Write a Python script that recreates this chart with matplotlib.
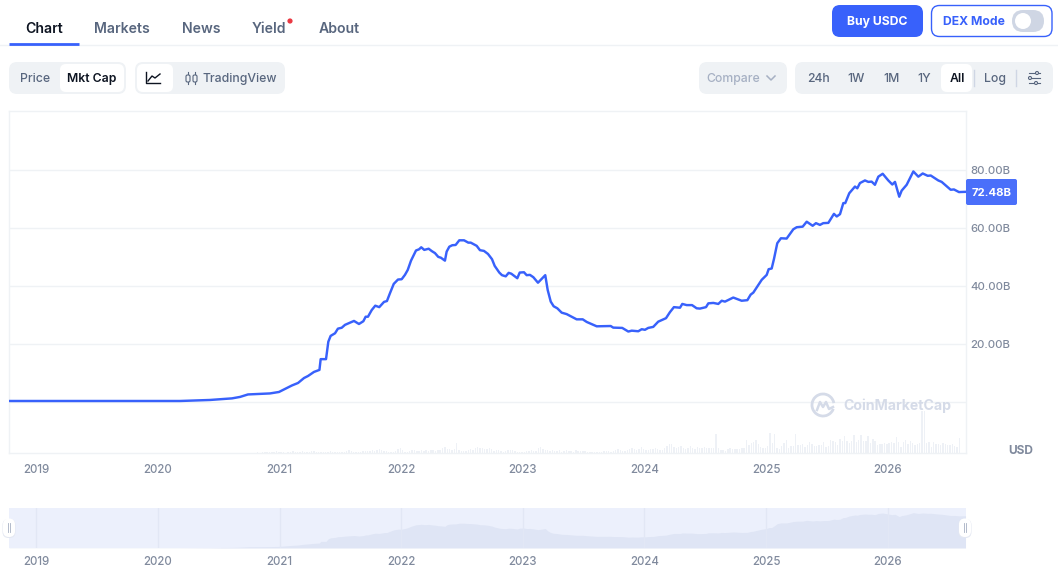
import numpy as np
import matplotlib
matplotlib.use("Agg")
import matplotlib.pyplot as plt
from matplotlib.patches import FancyBboxPatch, Circle, Arc

plt.rcParams["font.family"] = ["Inter", "DejaVu Sans"]

# market cap, decimal year / billions USD
cap_years = [
    2018.774, 2019.193, 2019.522, 2019.933, 2020.180, 2020.427, 2020.608, 2020.674, 2020.739, 2020.822,
    2020.920, 2020.994, 2021.044, 2021.101, 2021.151, 2021.200, 2021.233, 2021.282, 2021.327, 2021.337,
    2021.381, 2021.400, 2021.419, 2021.455, 2021.479, 2021.510, 2021.537, 2021.611, 2021.652, 2021.688,
    2021.707, 2021.726, 2021.757, 2021.786, 2021.819, 2021.858, 2021.882, 2021.907, 2021.938, 2021.973,
    2022.003, 2022.030, 2022.053, 2022.080, 2022.121, 2022.146, 2022.164, 2022.189, 2022.225, 2022.252,
    2022.277, 2022.304, 2022.326, 2022.359, 2022.373, 2022.395, 2022.419, 2022.447, 2022.477, 2022.516,
    2022.551, 2022.571, 2022.620, 2022.647, 2022.680, 2022.713, 2022.746, 2022.768, 2022.806, 2022.828,
    2022.859, 2022.883, 2022.905, 2022.954, 2022.974, 2023.009, 2023.031, 2023.058, 2023.086, 2023.124,
    2023.184, 2023.204, 2023.229, 2023.253, 2023.283, 2023.319, 2023.360, 2023.442, 2023.492, 2023.525,
    2023.607, 2023.722, 2023.743, 2023.817, 2023.867, 2023.895, 2023.949, 2023.977, 2024.004, 2024.031,
    2024.072, 2024.113, 2024.177, 2024.209, 2024.242, 2024.292, 2024.311, 2024.347, 2024.391, 2024.429,
    2024.456, 2024.506, 2024.525, 2024.566, 2024.607, 2024.635, 2024.662, 2024.730, 2024.799, 2024.846,
    2024.873, 2024.895, 2024.964, 2025.005, 2025.021, 2025.046, 2025.065, 2025.092, 2025.122, 2025.169,
    2025.224, 2025.252, 2025.301, 2025.334, 2025.383, 2025.410, 2025.443, 2025.470, 2025.512, 2025.558,
    2025.581, 2025.608, 2025.635, 2025.651, 2025.684, 2025.731, 2025.750, 2025.772, 2025.813, 2025.841,
    2025.868, 2025.895, 2025.923, 2025.959, 2026.005, 2026.038, 2026.060, 2026.095, 2026.115, 2026.156,
    2026.183, 2026.211, 2026.252, 2026.288, 2026.329, 2026.354, 2026.416, 2026.444, 2026.518, 2026.545,
    2026.586, 2026.640,
]
cap_values = [
    0.5, 0.5, 0.5, 0.5, 0.5, 0.85, 1.4, 1.9, 2.75, 2.9,
    3.1, 3.6, 4.65, 5.85, 6.7, 8.4, 9.1, 10.5, 11.2, 14.9,
    14.9, 20.9, 22.9, 23.8, 25.4, 25.7, 26.7, 28.05, 27.0, 27.95,
    29.5, 29.5, 31.8, 33.3, 32.8, 34.6, 34.9, 37.6, 40.8, 42.3,
    42.4, 43.9, 45.6, 48.8, 52.3, 52.7, 53.4, 52.5, 52.9, 52.05,
    51.4, 50.1, 49.8, 48.8, 51.9, 53.6, 54.1, 54.2, 55.8, 55.8,
    55.0, 55.0, 53.9, 52.4, 52.15, 51.1, 49.3, 47.0, 44.7, 43.8,
    43.4, 44.6, 44.3, 42.75, 44.7, 44.8, 43.8, 43.9, 43.1, 41.2,
    43.8, 38.7, 34.7, 33.1, 32.4, 30.9, 30.4, 28.6, 28.6, 27.7,
    26.2, 26.3, 25.75, 25.65, 24.4, 24.7, 24.5, 25.2, 25.0, 25.65,
    26.0, 27.8, 29.0, 31.05, 32.8, 32.6, 33.9, 33.5, 33.5, 32.4,
    32.3, 32.8, 34.1, 34.25, 33.9, 35.0, 34.7, 36.1, 35.0, 35.2,
    37.1, 37.8, 42.2, 43.9, 45.85, 46.1, 49.4, 54.8, 56.5, 56.4,
    59.6, 60.3, 60.5, 62.2, 60.8, 61.7, 61.1, 61.7, 61.8, 64.9,
    64.0, 64.8, 68.6, 68.6, 72.0, 74.3, 73.7, 75.5, 76.4, 75.9,
    76.0, 74.9, 77.7, 78.7, 76.4, 75.0, 75.9, 70.8, 72.9, 74.9,
    77.2, 79.5, 77.7, 78.8, 78.0, 78.1, 76.4, 75.9, 73.2, 73.3,
    72.4, 72.48,
]

# weekly volume, rough heights from the picture
vol_start = 2020.82
vol_values = [
    1, 0, 1, 1, 1, 1, 1, 1, 2, 1, 1, 1, 0, 1, 1, 2, 1, 1, 1, 2, 1, 1, 1, 2, 2, 1, 1, 1, 1, 1,
    1.5, 2, 1, 1, 1, 1, 1.5, 1.5, 2, 3, 2, 1.5, 1, 1, 1.5, 2, 2, 2.5, 2, 3, 2, 3, 4, 3, 2, 2, 1, 1.5, 1, 2, 4,
    5, 3, 1, 1, 2, 3, 3, 2, 2, 3, 2, 3, 2, 3, 3, 2, 3, 3, 5, 6, 4, 4, 3, 4, 10, 3, 2, 2, 2, 3, 4, 3, 5, 6,
    5, 5, 4, 4, 5, 4, 2, 3, 3, 2, 1.5, 2, 3, 3, 3, 2, 1, 1, 1, 1.5, 2, 2, 3, 2, 2, 5, 6,
    4, 3, 3, 2, 3, 2, 2, 3, 1.5, 2, 3, 2, 2, 1.5, 3, 2, 2, 2, 2, 1, 1, 1, 1, 1, 1, 1.5, 2, 2, 2, 1, 2, 3,
    4, 3, 2, 2, 3, 4, 5, 4, 3, 4, 6, 4, 3, 3, 4, 4, 5, 4, 3, 3, 5, 7, 9, 9, 6, 5, 6, 7, 5, 4, 5, 7, 5, 4,
    6, 5, 5, 6, 5, 5, 5, 5, 19, 5, 3, 3, 2, 4, 5,
    4, 4, 4, 4, 5, 5, 13, 8, 10, 11, 13, 9, 6, 5, 5, 7, 20, 10, 19, 5, 4, 7, 10, 13, 5, 7, 7, 19,
    8, 8, 9, 6, 8, 11, 9, 7, 7, 8, 8, 11, 6, 7, 13, 12, 11, 8, 14, 12, 17, 12, 10, 12, 18, 11, 13, 18, 12, 12,
    17, 10, 14, 12, 8, 9, 9, 10, 9, 10, 11, 10, 16, 11, 6, 11, 13, 9, 12, 10, 8, 9, 10, 42, 42, 10, 11, 6, 11, 9,
    9, 8, 10, 9, 8, 8, 9, 7, 6, 15,
]

year_ticks = [2019, 2020, 2021, 2022, 2023, 2024, 2025, 2026]
cap_ticks = [20, 40, 60, 80]
cap_tick_labels = ["20.00B", "40.00B", "60.00B", "80.00B"]
last_label = "72.48B"

tab_names = ["Chart", "Markets", "News", "Yield", "About"]
range_names = ["24h", "1W", "1M", "1Y", "All"]

BLUE = "#3861fb"
GRID = "#eff2f5"
GREY = "#808a9d"
SLATE = "#58667e"
DARK = "#0d1421"
W, H = 1058, 577
XLIM = (2018.774, 2026.644)


def px_rect(left, top, right, bottom):
    return [left / W, 1 - bottom / H, (right - left) / W, (bottom - top) / H]


def pill(ax, left, top, right, bottom, color, radius=8, edge="none", lw=0, zorder=2):
    p = FancyBboxPatch((left + radius, top + radius), right - left - 2 * radius, bottom - top - 2 * radius,
                       boxstyle="round,pad=%s,rounding_size=%s" % (radius, radius),
                       fc=color, ec=edge, lw=lw, zorder=zorder)
    ax.add_patch(p)


fig = plt.figure(figsize=(W / 100, H / 100), dpi=100, facecolor="white")

# volume bars sit behind the price axes
vol_ax = fig.add_axes(px_rect(9, 111, 966, 453), zorder=1)
vol_ax.set_xlim(*XLIM)
vol_ax.set_ylim(0, 342)
vol_ax.axis("off")
vol_years = vol_start + np.arange(len(vol_values)) / 52
vol_ax.bar(vol_years, vol_values, width=1.4 / 121.6, color="#eef1f6", lw=0)

# main chart
ax = fig.add_axes(px_rect(9, 111, 966, 453), zorder=2)
ax.patch.set_visible(False)
ax.set_xlim(*XLIM)
ax.set_ylim(-17.4, 100.3)
ax.yaxis.tick_right()
ax.set_yticks([0] + cap_ticks)
ax.set_yticklabels([""] + cap_tick_labels, color=GREY, fontsize=8.2, fontweight="medium")
ax.set_xticks(year_ticks)
ax.set_xticklabels(year_ticks, color=GREY, fontsize=8.3, fontweight="medium")
ax.tick_params(axis="both", length=0)
ax.tick_params(axis="y", pad=3)
ax.tick_params(axis="x", pad=8)
ax.grid(axis="y", color=GRID, lw=1)
ax.set_axisbelow(True)
for s in ax.spines.values():
    s.set_color(GRID)
    s.set_linewidth(1)
ax.plot(cap_years, cap_values, color=BLUE, lw=1.75, solid_joinstyle="round", zorder=5)

# navigator below the chart
nav = fig.add_axes(px_rect(9, 508, 966, 548))
nav.set_xlim(*XLIM)
nav.set_ylim(0, 90)
nav.set_facecolor("#ecf0fc")
nav.fill_between(cap_years, cap_values, 0, color="#dfe5f5", lw=0)
nav.set_yticks([])
nav.set_xticks(year_ticks)
nav.set_xticklabels(year_ticks, color=GREY, fontsize=8.3, fontweight="medium")
nav.tick_params(axis="x", length=0, pad=6)
nav.grid(axis="x", color="#e2e7f5", lw=1)
nav.set_axisbelow(False)
for s in nav.spines.values():
    s.set_visible(False)

# page furniture, in pixel coordinates
ui = fig.add_axes([0, 0, 1, 1], zorder=10)
ui.set_xlim(0, W)
ui.set_ylim(H, 0)
ui.axis("off")
ui.patch.set_visible(False)

ui.plot([0, W], [45, 45], color=GRID, lw=1)
ui.plot([9, 79], [44, 44], color=BLUE, lw=2, solid_capstyle="butt", zorder=3)
for name, cx in zip(tab_names, [44, 122, 201, 269, 339]):
    ui.text(cx, 29.3, name, ha="center", va="center", fontsize=10.1, fontweight="semibold",
            color=DARK if name == "Chart" else SLATE)
ui.add_patch(Circle((290, 21), 2.6, fc="#ea3943", ec="none"))

pill(ui, 832, 5, 923, 37, BLUE)
ui.text(877.5, 21.7, "Buy USDC", ha="center", va="center", color="white", fontsize=8.8, fontweight="bold")
pill(ui, 931.5, 5.5, 1052, 36.5, "white", edge=BLUE, lw=1)
ui.text(974, 21.7, "DEX Mode", ha="center", va="center", color=BLUE, fontsize=8.8, fontweight="bold")
pill(ui, 1012, 10, 1044, 32, "#cfd6e4", radius=11, zorder=3)
ui.add_patch(Circle((1023, 21), 8, fc="white", ec="none", zorder=4))

pill(ui, 9, 62, 126, 94, GRID)
pill(ui, 60, 64, 124, 92, "white", radius=6, zorder=3)
ui.text(35, 78.7, "Price", ha="center", va="center", color=SLATE, fontsize=8.8, fontweight="medium")
ui.text(92, 78.7, "Mkt Cap", ha="center", va="center", color=DARK, fontsize=8.8, fontweight="semibold", zorder=4)

pill(ui, 135, 62, 285, 94, GRID)
pill(ui, 137, 64, 173, 92, "white", radius=6, zorder=3)
ui.plot([146, 146, 160], [72, 83, 83], color=DARK, lw=1, zorder=4)
ui.plot([148, 152, 155, 160], [81, 76, 78, 74], color=DARK, lw=1, zorder=4)
ui.text(239.5, 78.7, "TradingView", ha="center", va="center", color=SLATE, fontsize=8.8, fontweight="medium")
for cx in [188, 195]:
    ui.plot([cx, cx], [72, 84], color=SLATE, lw=0.8, zorder=3)
    pill(ui, cx - 2, 75, cx + 2, 82, GRID, radius=1.5, edge=SLATE, lw=0.8, zorder=4)

pill(ui, 699, 62, 787, 94, GRID)
ui.text(733, 78.7, "Compare", ha="center", va="center", color="#a6b0c3", fontsize=8.8, fontweight="medium")
ui.plot([767, 771, 775], [76, 80, 76], color="#a6b0c3", lw=1.1)

pill(ui, 795, 62, 1053, 94, GRID)
pill(ui, 941, 64, 972, 92, "white", radius=6, zorder=3)
for name, cx in zip(range_names, [818, 856, 891, 924, 957]):
    ui.text(cx, 78.7, name, ha="center", va="center", fontsize=8.8, zorder=4,
            color=DARK if name == "All" else SLATE, fontweight="semibold" if name == "All" else "medium")
ui.text(995, 78.7, "Log", ha="center", va="center", color=SLATE, fontsize=8.8, fontweight="medium")
for sx in [974, 1016]:
    ui.plot([sx, sx], [70, 86], color="#cfd6e4", lw=1)
for sy, kx in zip([73, 78, 83], [1037, 1030, 1036]):
    ui.plot([1029, 1040], [sy, sy], color=SLATE, lw=0.8)
    ui.add_patch(Circle((kx, sy), 1.5, fc=GRID, ec=SLATE, lw=0.8, zorder=3))

pill(ui, 966, 179, 1017, 205, "#4a6ffa", radius=2)
ui.text(991.5, 193, last_label, ha="center", va="center", color="white", fontsize=8.2, fontweight="bold", zorder=3)
ui.text(1021, 451.5, "USD", ha="center", va="center", color=GREY, fontsize=8.6, fontweight="bold")

# watermark
ui.add_patch(Arc((823, 405), 22, 22, theta1=20, theta2=350, ec="#d5dbe8", lw=2))
ui.plot([817, 820, 823, 826, 829, 833], [410, 402, 407, 402, 409, 407], color="#d5dbe8", lw=1.8)
ui.text(843, 406, "CoinMarketCap", ha="left", va="center", color="#d5dbe8", fontsize=10.2, fontweight="bold")

# navigator handles
for left in [2, 958]:
    pill(ui, left + 0.5, 519, left + 13.5, 538, "#e4e8f2", radius=6, zorder=3)
    pill(ui, left + 1, 518.5, left + 13, 537, "white", radius=6, zorder=4)
    for hx in [left + 6, left + 8]:
        ui.plot([hx, hx], [523, 532], color="#a6b0c3", lw=0.6, zorder=5)

fig.savefig("out.png", dpi=100)
